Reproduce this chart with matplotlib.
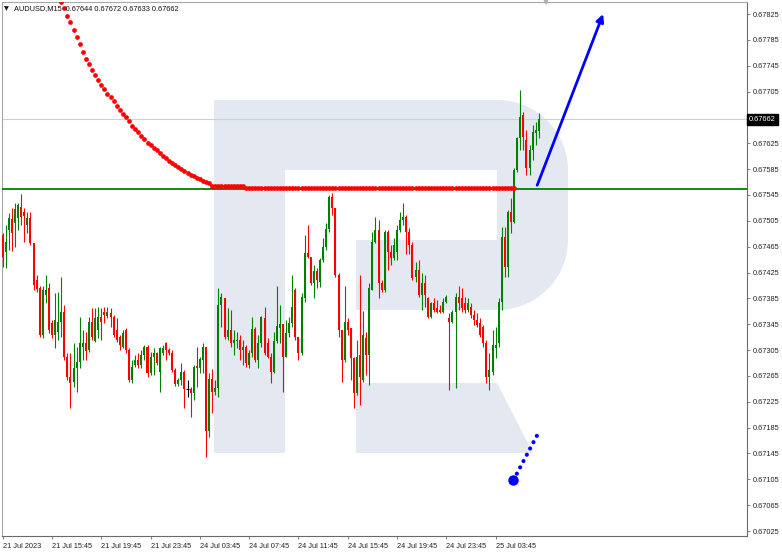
import numpy as np
import matplotlib
matplotlib.use("Agg")
import matplotlib.pyplot as plt
import matplotlib.transforms as mtransforms
from matplotlib.patches import Polygon

# AUDUSD M15 candles, oldest first
opens = [
    0.67483, 0.67457, 0.67491, 0.67508, 0.67502, 0.67509, 0.67526, 0.67519, 0.67498, 0.67509,
    0.67471, 0.67413, 0.67401, 0.67328, 0.67390, 0.67401, 0.67347, 0.67328, 0.67333, 0.67348,
    0.67364, 0.67294, 0.67263, 0.67255, 0.67277, 0.67286, 0.67310, 0.67316, 0.67305, 0.67348,
    0.67319, 0.67336, 0.67356, 0.67364, 0.67357, 0.67362, 0.67356, 0.67336, 0.67325, 0.67310,
    0.67336, 0.67305, 0.67258, 0.67282, 0.67289, 0.67282, 0.67297, 0.67310, 0.67269, 0.67294,
    0.67300, 0.67271, 0.67300, 0.67316, 0.67305, 0.67300, 0.67274, 0.67252, 0.67258, 0.67271,
    0.67244, 0.67245, 0.67238, 0.67280, 0.67277, 0.67289, 0.67310, 0.67180, 0.67260, 0.67240,
    0.67247, 0.67375, 0.67385, 0.67325, 0.67336, 0.67316, 0.67319, 0.67320, 0.67305, 0.67310,
    0.67282, 0.67300, 0.67337, 0.67289, 0.67316, 0.67354, 0.67316, 0.67294, 0.67271, 0.67319,
    0.67339, 0.67345, 0.67294, 0.67331, 0.67347, 0.67398, 0.67325, 0.67300, 0.67385, 0.67455,
    0.67449, 0.67409, 0.67427, 0.67410, 0.67444, 0.67464, 0.67492, 0.67542, 0.67525, 0.67421,
    0.67336, 0.67289, 0.67348, 0.67339, 0.67293, 0.67238, 0.67297, 0.67258, 0.67324, 0.67297,
    0.67398, 0.67472, 0.67491, 0.67409, 0.67398, 0.67488, 0.67457, 0.67447, 0.67457, 0.67491,
    0.67506, 0.67511, 0.67488, 0.67467, 0.67418, 0.67429, 0.67390, 0.67409, 0.67385, 0.67356,
    0.67378, 0.67370, 0.67367, 0.67364, 0.67379, 0.67354, 0.67348, 0.67364, 0.67387, 0.67385,
    0.67378, 0.67367, 0.67371, 0.67359, 0.67351, 0.67347, 0.67341, 0.67316, 0.67263, 0.67271,
    0.67308, 0.67316, 0.67379, 0.67480, 0.67433, 0.67519, 0.67503, 0.67584, 0.67633, 0.67669,
    0.67630, 0.67587, 0.67614, 0.67641, 0.67644,
]
highs = [
    0.67486, 0.67498, 0.67517, 0.67525, 0.67532, 0.67532, 0.67546, 0.67525, 0.67519, 0.67519,
    0.67471, 0.67421, 0.67404, 0.67404, 0.67421, 0.67409, 0.67351, 0.67393, 0.67395, 0.67418,
    0.67375, 0.67300, 0.67300, 0.67316, 0.67310, 0.67356, 0.67336, 0.67333, 0.67356, 0.67370,
    0.67370, 0.67371, 0.67370, 0.67371, 0.67371, 0.67370, 0.67359, 0.67354, 0.67328, 0.67336,
    0.67339, 0.67308, 0.67289, 0.67297, 0.67300, 0.67305, 0.67313, 0.67313, 0.67302, 0.67308,
    0.67302, 0.67309, 0.67313, 0.67317, 0.67308, 0.67305, 0.67277, 0.67262, 0.67285, 0.67274,
    0.67258, 0.67248, 0.67282, 0.67310, 0.67294, 0.67316, 0.67310, 0.67269, 0.67275, 0.67258,
    0.67401, 0.67393, 0.67385, 0.67370, 0.67367, 0.67336, 0.67333, 0.67328, 0.67320, 0.67313,
    0.67305, 0.67356, 0.67341, 0.67328, 0.67358, 0.67371, 0.67324, 0.67300, 0.67333, 0.67404,
    0.67375, 0.67345, 0.67351, 0.67356, 0.67421, 0.67401, 0.67325, 0.67393, 0.67483, 0.67498,
    0.67449, 0.67437, 0.67432, 0.67447, 0.67478, 0.67501, 0.67545, 0.67548, 0.67525, 0.67424,
    0.67336, 0.67404, 0.67354, 0.67339, 0.67294, 0.67320, 0.67421, 0.67365, 0.67333, 0.67409,
    0.67488, 0.67511, 0.67506, 0.67413, 0.67491, 0.67491, 0.67467, 0.67478, 0.67498, 0.67519,
    0.67532, 0.67514, 0.67494, 0.67472, 0.67441, 0.67444, 0.67424, 0.67421, 0.67387, 0.67379,
    0.67385, 0.67382, 0.67375, 0.67385, 0.67390, 0.67362, 0.67367, 0.67393, 0.67404, 0.67401,
    0.67387, 0.67385, 0.67378, 0.67367, 0.67362, 0.67354, 0.67344, 0.67320, 0.67300, 0.67336,
    0.67341, 0.67385, 0.67495, 0.67495, 0.67522, 0.67540, 0.67587, 0.67635, 0.67707, 0.67673,
    0.67645, 0.67622, 0.67653, 0.67658, 0.67672,
]
lows = [
    0.67433, 0.67432, 0.67460, 0.67458, 0.67464, 0.67491, 0.67498, 0.67472, 0.67486, 0.67467,
    0.67398, 0.67395, 0.67325, 0.67323, 0.67378, 0.67331, 0.67323, 0.67308, 0.67320, 0.67326,
    0.67290, 0.67259, 0.67215, 0.67248, 0.67240, 0.67277, 0.67290, 0.67290, 0.67302, 0.67320,
    0.67317, 0.67324, 0.67320, 0.67347, 0.67354, 0.67341, 0.67325, 0.67317, 0.67305, 0.67308,
    0.67300, 0.67255, 0.67254, 0.67279, 0.67277, 0.67277, 0.67290, 0.67263, 0.67266, 0.67266,
    0.67282, 0.67240, 0.67297, 0.67290, 0.67297, 0.67271, 0.67249, 0.67249, 0.67251, 0.67215,
    0.67232, 0.67201, 0.67228, 0.67248, 0.67269, 0.67269, 0.67139, 0.67170, 0.67207, 0.67235,
    0.67233, 0.67341, 0.67322, 0.67320, 0.67310, 0.67297, 0.67308, 0.67290, 0.67282, 0.67279,
    0.67277, 0.67294, 0.67286, 0.67277, 0.67310, 0.67297, 0.67292, 0.67254, 0.67269, 0.67316,
    0.67316, 0.67240, 0.67294, 0.67325, 0.67341, 0.67320, 0.67290, 0.67297, 0.67379, 0.67447,
    0.67405, 0.67385, 0.67401, 0.67402, 0.67441, 0.67460, 0.67488, 0.67514, 0.67418, 0.67325,
    0.67255, 0.67286, 0.67328, 0.67258, 0.67215, 0.67235, 0.67220, 0.67255, 0.67266, 0.67251,
    0.67398, 0.67471, 0.67385, 0.67395, 0.67395, 0.67429, 0.67436, 0.67444, 0.67444, 0.67488,
    0.67498, 0.67453, 0.67453, 0.67413, 0.67410, 0.67387, 0.67367, 0.67371, 0.67354, 0.67354,
    0.67364, 0.67362, 0.67362, 0.67362, 0.67378, 0.67243, 0.67347, 0.67246, 0.67367, 0.67364,
    0.67362, 0.67364, 0.67354, 0.67344, 0.67341, 0.67325, 0.67310, 0.67254, 0.67243, 0.67266,
    0.67293, 0.67310, 0.67367, 0.67418, 0.67418, 0.67486, 0.67502, 0.67580, 0.67614, 0.67614,
    0.67576, 0.67576, 0.67599, 0.67622, 0.67633,
]
closes = [
    0.67449, 0.67472, 0.67509, 0.67486, 0.67523, 0.67529, 0.67511, 0.67512, 0.67509, 0.67471,
    0.67405, 0.67399, 0.67328, 0.67398, 0.67398, 0.67336, 0.67328, 0.67351, 0.67348, 0.67364,
    0.67294, 0.67263, 0.67254, 0.67277, 0.67286, 0.67316, 0.67316, 0.67303, 0.67348, 0.67325,
    0.67354, 0.67356, 0.67348, 0.67359, 0.67364, 0.67356, 0.67328, 0.67320, 0.67313, 0.67331,
    0.67305, 0.67258, 0.67279, 0.67289, 0.67282, 0.67297, 0.67310, 0.67269, 0.67294, 0.67300,
    0.67285, 0.67308, 0.67308, 0.67305, 0.67300, 0.67274, 0.67252, 0.67258, 0.67271, 0.67245,
    0.67244, 0.67238, 0.67279, 0.67277, 0.67291, 0.67310, 0.67180, 0.67260, 0.67240, 0.67247,
    0.67375, 0.67387, 0.67325, 0.67336, 0.67316, 0.67320, 0.67320, 0.67305, 0.67310, 0.67285,
    0.67300, 0.67337, 0.67289, 0.67316, 0.67356, 0.67300, 0.67294, 0.67271, 0.67319, 0.67342,
    0.67345, 0.67294, 0.67331, 0.67347, 0.67371, 0.67325, 0.67300, 0.67387, 0.67455, 0.67449,
    0.67409, 0.67427, 0.67413, 0.67444, 0.67464, 0.67492, 0.67542, 0.67525, 0.67421, 0.67336,
    0.67289, 0.67348, 0.67336, 0.67293, 0.67238, 0.67294, 0.67263, 0.67328, 0.67297, 0.67401,
    0.67472, 0.67491, 0.67409, 0.67398, 0.67488, 0.67457, 0.67447, 0.67467, 0.67491, 0.67506,
    0.67511, 0.67488, 0.67467, 0.67416, 0.67429, 0.67390, 0.67409, 0.67390, 0.67356, 0.67378,
    0.67367, 0.67364, 0.67364, 0.67379, 0.67387, 0.67348, 0.67364, 0.67387, 0.67378, 0.67370,
    0.67367, 0.67378, 0.67359, 0.67351, 0.67344, 0.67328, 0.67316, 0.67263, 0.67274, 0.67313,
    0.67313, 0.67379, 0.67480, 0.67433, 0.67519, 0.67503, 0.67584, 0.67633, 0.67666, 0.67635,
    0.67587, 0.67614, 0.67642, 0.67645, 0.67662,
]

# red dotted indicator, starts at bar 19
sar_start = 19
sar_values = [
    0.67844, 0.67835, 0.67822, 0.67812, 0.67800, 0.67789, 0.67779, 0.67766, 0.67755, 0.67747,
    0.67738, 0.67731, 0.67723, 0.67715, 0.67709, 0.67702, 0.67696, 0.67690, 0.67683, 0.67677,
    0.67671, 0.67665, 0.67659, 0.67652, 0.67647, 0.67642, 0.67636, 0.67631, 0.67626, 0.67622,
    0.67618, 0.67614, 0.67610, 0.67606, 0.67602, 0.67598, 0.67594, 0.67591, 0.67588, 0.67585,
    0.67582, 0.67579, 0.67576, 0.67574, 0.67571, 0.67569, 0.67567, 0.67565, 0.67563,
] + [0.67559] * 11 + [0.67556] * 88

level = 0.67555
bid = 0.67662
arrow_start = (173.5, 0.67560)
arrow_end = (194.9, 0.67825)
dots_start = (165.8, 0.67104)
dots_end = (173.9, 0.67177)
shift_bar = 176.3

time_ticks = [0, 16, 32, 48, 64, 80, 96, 112, 128, 144, 160]
time_labels = ["21 Jul 2023", "21 Jul 15:45", "21 Jul 19:45", "21 Jul 23:45",
               "24 Jul 03:45", "24 Jul 07:45", "24 Jul 11:45", "24 Jul 15:45",
               "24 Jul 19:45", "24 Jul 23:45", "25 Jul 03:45"]
price_ticks = [0.67025, 0.67065, 0.67105, 0.67145, 0.67185, 0.67225, 0.67265, 0.67305,
               0.67345, 0.67385, 0.67425, 0.67465, 0.67505, 0.67545, 0.67585, 0.67625,
               0.67705, 0.67745, 0.67785, 0.67825]

FONT = ["Liberation Sans", "DejaVu Sans"]
FS = 5.3

fig = plt.figure(figsize=(7.82, 5.53), dpi=100)
ax = fig.add_axes([2 / 782, 17 / 553, 745 / 782, 534 / 553])
ax.set_xlim(-0.23, 241.6)
ax.set_ylim(0.670173, 0.678436)

# watermark logo, built in screen pixels of the axes box
def px(points):
    return [((x - 2) / 745, (536 - y) / 534) for x, y in points]

wm = "#e4e9f1"
th = np.linspace(0, np.pi / 2, 20)
bowl = [(497, 100)] + [(497 + 71 * np.sin(t), 170 - 70 * np.cos(t)) for t in th] \
    + [(497 + 71 * np.cos(t), 240 + 70 * np.sin(t)) for t in th] + [(497, 310)]
shapes = [
    [(214, 100), (285, 100), (285, 453), (214, 453)],
    [(214, 100), (498, 100), (498, 170), (214, 170)],
    [(356, 240), (498, 240), (498, 310), (356, 310)],
    bowl,
    [(356, 383), (497, 383), (533, 453), (356, 453)],
]
for s in shapes:
    ax.add_patch(Polygon(px(s), closed=True, facecolor=wm, edgecolor="none",
                         transform=ax.transAxes, zorder=0))

o = np.array(opens)
h = np.array(highs)
l = np.array(lows)
c = np.array(closes)
x = np.arange(len(c))
cols = np.where(c > o, "#008000", np.where(c < o, "#ff0000", "#000000"))

ax.vlines(x, l, h, colors=cols, lw=0.8, zorder=3)
ax.bar(x, np.abs(c - o), width=0.65, bottom=np.minimum(o, c), color=cols,
       linewidth=0, zorder=4)
flat = c == o
ax.hlines(c[flat], x[flat] - 0.45, x[flat] + 0.45, colors="#000000", lw=0.8, zorder=4)

ax.axhline(bid, color="#d0d0d0", lw=0.8, zorder=2)
ax.axhline(level, color="#008000", lw=1.3, zorder=5)

sx = np.arange(sar_start, sar_start + len(sar_values))
ax.plot(sx, sar_values, "o", color="#ff0000", ms=3.4, mew=0, zorder=6)

ax.annotate("", xy=arrow_end, xytext=arrow_start,
            arrowprops=dict(arrowstyle="-|>", color="#0000ff", lw=2.0,
                            mutation_scale=11, shrinkA=0, shrinkB=0), zorder=7)
ax.plot([dots_start[0], dots_end[0]], [dots_start[1], dots_end[1]], color="#0000ff",
        lw=3.0, linestyle=(0, (0.01, 1.7)), dash_capstyle="round", zorder=7)
ax.plot([dots_start[0]], [dots_start[1]], "o", color="#0000ff", ms=7.5, mew=0, zorder=7)

# chart shift marker
ax.plot([shift_bar], [1.0], "v", color="#b0b0b0", ms=4, mew=0, clip_on=False,
        transform=mtransforms.blended_transform_factory(ax.transData, ax.transAxes))

for side in ["left", "top"]:
    ax.spines[side].set_color("#a8a8a8")
for side in ["right", "bottom"]:
    ax.spines[side].set_color("#6a6a6a")
for sp in ax.spines.values():
    sp.set_linewidth(0.8)

ax.yaxis.tick_right()
ax.set_yticks(price_ticks)
ax.set_yticklabels([f"{p:.5f}" for p in price_ticks], fontsize=FS, family=FONT,
                   color="#222222")
ax.set_xticks(time_ticks)
ax.set_xticklabels(time_labels, fontsize=FS, family=FONT, color="#222222", ha="left")
ax.tick_params(axis="both", direction="out", length=2.5, width=0.6, colors="#6a6a6a",
               labelcolor="#222222", pad=1.5)
ax.tick_params(axis="x", pad=2.5)

tr = mtransforms.blended_transform_factory(ax.transAxes, ax.transData)
ax.text(1.003, bid, f"{bid:.5f}", transform=tr, va="center", ha="left", color="white",
        fontsize=FS, family=FONT, zorder=10, clip_on=False,
        bbox=dict(boxstyle="square,pad=0.3", facecolor="black", edgecolor="black"))

ax.text(0.003, 0.988, "\u25bc", transform=ax.transAxes, fontsize=4.5,
        family=["DejaVu Sans"], va="center", ha="left", color="#111111", zorder=10)
ax.text(0.016, 0.988, f"AUDUSD,M15  {opens[-1]:.5f} {highs[-1]:.5f} {lows[-1]:.5f} {closes[-1]:.5f}",
        transform=ax.transAxes, fontsize=FS, family=FONT, va="center", ha="left",
        color="#111111", zorder=10)

fig.savefig("out.png", dpi=100)
